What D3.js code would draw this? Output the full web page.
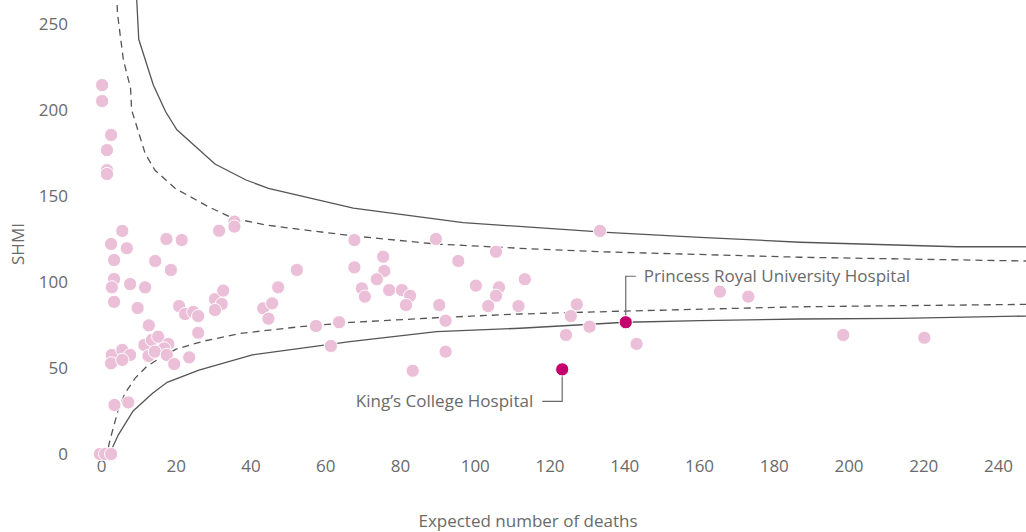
<!DOCTYPE html>
<html>
<head>
  <title>SHMI funnel plot</title>
  <script src="https://d3js.org/d3.v7.min.js"></script>
  <style>
    body { margin: 0; background: #fff; }
    text { font-family: "Open Sans", "Noto Sans", sans-serif; font-weight: 400; fill: #6a6a6a; }
  </style>
</head>
<body>
<script type="text/javascript">

  var w = 1026;
  var h = 532;

  // trusts: expected deaths, SHMI
  var expected = [0.3, 0.3, 2.7, 1.6, 1.6, 1.6, 2.7, 3.5, 3.5, 2.9, 3.5, 5.7, 6.9, 7.8, 9.8, 11.8,
    17.5, 21.6, 14.5, 18.7, 31.6, 35.7, 35.7, 20.9, 22.5, 24.7, 26, 30.5, 32.7, 32.3, 30.5, 26,
    43.4, 45.8, 44.8, 47.4, 12.8, 23.6, 2.9, 5.7, 7.8, 2.7, 5.7, 11.6, 13.6, 15.3, 18, 16.9,
    12.7, 14.4, 17.6, 19.6, 3.6, 7.3, -0.3, 1.1, 2.7, 52.4, 67.8, 67.8, 75.5, 75.8, 73.8, 69.8,
    70.6, 77.1, 80.5, 82.7, 81.6, 89.6, 95.6, 105.7, 100.3, 106.5, 105.7, 103.6, 90.5, 111.7,
    92.2, 57.5, 63.7, 61.5, 92.2, 83.4, 113.4, 133.5, 127.3, 125.7, 130.7, 124.4, 143.3, 165.6,
    173.2, 198.6, 220.3];
  var shmi = [214.5, 205.2, 185.5, 176.7, 165, 162.8, 122.1, 112.8, 101.7, 96.9, 88.5, 129.7, 119.6, 98.8, 84.9, 96.9,
    125, 124.4, 112.2, 107, 129.8, 135.1, 132.2, 86, 81.4, 82.6, 80.2, 90, 95, 87.2, 83.7, 70.5,
    84.7, 87.6, 78.7, 96.9, 74.8, 56.2, 57.6, 60.5, 57.6, 52.7, 54.7, 63.4, 66.3, 68.2, 64, 61.4,
    57, 59.5, 57.6, 52.3, 28.5, 30, 0, 0, 0, 107, 124.4, 108.5, 114.7, 106.4, 101.6, 96.3,
    91.5, 95.3, 95.3, 92, 86.6, 125, 112.2, 117.6, 97.9, 96.9, 92, 86, 86.6, 86,
    77.5, 74.4, 76.6, 62.8, 59.5, 48.4, 101.6, 129.7, 87, 80.2, 74, 69.2, 64, 94.4,
    91.5, 69.2, 67.6];

  // highlighted hospitals
  var hiNames = ["King\u2019s College Hospital", "Princess Royal University Hospital"];
  var hiExpected = [123.4, 140.4];
  var hiShmi = [49.2, 76.6];

  // control limits
  var upper998X = [9.3, 10.1, 14.0, 17.3, 20.3, 30.5, 38.8, 44.8, 67.5, 96.9, 135.3, 160.3, 187, 229, 247.5];
  var upper998Y = [275, 241.1, 214.5, 199, 188.5, 168.6, 159.3, 154.5, 142.9, 134.5, 128.9, 126, 123.1, 120.5, 120.5];
  var upper95X = [4.1, 4.4, 6.0, 7.9, 8.2, 11.8, 14.4, 19.8, 28.7, 35.4, 44.3, 53.2, 67.8, 89.6, 112.1, 133.5, 187, 247.5];
  var upper95Y = [275, 256.2, 229, 212.8, 200, 174.8, 165.1, 154.5, 143.8, 137, 133.1, 130.6, 126.7, 122.1, 119.6, 117.6, 114.4, 112.2];
  var lower95X = [1.3, 2.4, 4.6, 6.4, 9.1, 12.2, 15.3, 20.1, 27.6, 37.2, 53.2, 66.6, 92.2, 112.1, 140.4, 187, 247.5];
  var lower95Y = [-3, 8.1, 25.6, 35.3, 44, 50.8, 55.1, 61, 65.7, 70.1, 74, 76.5, 79.5, 81.4, 83.1, 85.6, 87];
  var lower998X = [2.3, 4.6, 8.6, 13.8, 17.7, 26.2, 40.5, 66.6, 89.8, 112.1, 140.4, 160.3, 187, 213.8, 247.5];
  var lower998Y = [0, 11, 25, 35.3, 41.7, 48.8, 57.6, 65.3, 71.1, 73.1, 76.6, 77.6, 78.5, 78.8, 80.2];

  var xTicks = d3.range(0, 241, 20);
  var yTicks = [0, 50, 100, 150, 200, 250];

  var svg = d3.select("body").append("svg")
          .attr("width", w)
          .attr("height", h);

  var xScale = d3.scaleLinear().domain([0, 240]).range([101, 998]);
  var yScale = d3.scaleLinear().domain([0, 250]).range([454, 24]);

  svg.append("clipPath").attr("id", "plot")
     .append("rect").attr("x", 80).attr("y", 0).attr("width", w - 80).attr("height", 470);

  // axes, no domain lines or ticks
  var xAxis = svg.append("g")
     .attr("transform", "translate(0,454)")
     .call(d3.axisBottom(xScale).tickValues(xTicks).tickSize(0).tickPadding(6));
  var yAxis = svg.append("g")
     .attr("transform", "translate(68,0)")
     .call(d3.axisLeft(yScale).tickValues(yTicks).tickSize(0).tickPadding(0));
  svg.selectAll(".domain").remove();
  svg.selectAll(".tick text")
     .attr("fill", "#6a6a6a")
     .style("font-family", "'Open Sans', 'Noto Sans', sans-serif")
     .style("font-weight", 400)
     .style("font-size", "17px");
  xAxis.selectAll(".tick text").attr("dy", "0.71em");

  svg.append("text")
     .attr("x", 528).attr("y", 527)
     .attr("text-anchor", "middle")
     .style("font-size", "17px")
     .text("Expected number of deaths");

  svg.append("text")
     .attr("transform", "translate(24,244) rotate(-90)")
     .attr("text-anchor", "middle")
     .style("font-size", "17px")
     .text("SHMI");

  // funnel limits
  function toPts(xs, ys) {
    return xs.map(function(d, i){ return [d, ys[i]]; });
  }
  var line = d3.line()
      .x(function(d){ return xScale(d[0]); })
      .y(function(d){ return yScale(d[1]); });

  var limits = [
    { pts: toPts(upper998X, upper998Y), dash: null },
    { pts: toPts(lower998X, lower998Y), dash: null },
    { pts: toPts(upper95X, upper95Y), dash: "7,5" },
    { pts: toPts(lower95X, lower95Y), dash: "7,5" }
  ];
  svg.append("g").attr("clip-path", "url(#plot)")
     .selectAll("path")
     .data(limits)
     .enter()
     .append("path")
     .attr("d", function(d){ return line(d.pts); })
     .attr("fill", "none")
     .attr("stroke", "#555")
     .attr("stroke-width", 1.3)
     .attr("stroke-dasharray", function(d){ return d.dash; });

  // trusts
  svg.append("g")
     .selectAll("circle")
     .data(toPts(expected, shmi))
     .enter()
     .append("circle")
     .attr("cx", function(d){ return xScale(d[0]); })
     .attr("cy", function(d){ return yScale(d[1]); })
     .attr("r", 6.6)
     .attr("fill", "#ebbfd8")
     .attr("stroke", "#fff")
     .attr("stroke-width", 1);

  // highlighted trusts with leader lines
  var hi = hiNames.map(function(n, i){ return { name: n, x: hiExpected[i], y: hiShmi[i] }; });

  var kx = xScale(hi[0].x), ky = yScale(hi[0].y);
  svg.append("path")
     .attr("d", "M" + kx + "," + (ky + 6) + "V" + (ky + 32) + "H" + (kx - 20))
     .attr("fill", "none").attr("stroke", "#6a6a6a").attr("stroke-width", 1.2);
  svg.append("text")
     .attr("x", kx - 29).attr("y", ky + 32).attr("dy", "0.35em")
     .attr("text-anchor", "end")
     .style("font-size", "17px")
     .text(hi[0].name);

  var px = xScale(hi[1].x), py = yScale(hi[1].y);
  svg.append("path")
     .attr("d", "M" + px + "," + (py - 6) + "V" + (py - 46) + "H" + (px + 10))
     .attr("fill", "none").attr("stroke", "#6a6a6a").attr("stroke-width", 1.2);
  svg.append("text")
     .attr("x", px + 18).attr("y", py - 46).attr("dy", "0.35em")
     .style("font-size", "17px")
     .text(hi[1].name);

  svg.append("g")
     .selectAll("circle")
     .data(hi)
     .enter()
     .append("circle")
     .attr("cx", function(d){ return xScale(d.x); })
     .attr("cy", function(d){ return yScale(d.y); })
     .attr("r", 6.6)
     .attr("fill", "#c4006f")
     .attr("stroke", "#fff")
     .attr("stroke-width", 1);

</script>
</body>
</html>
